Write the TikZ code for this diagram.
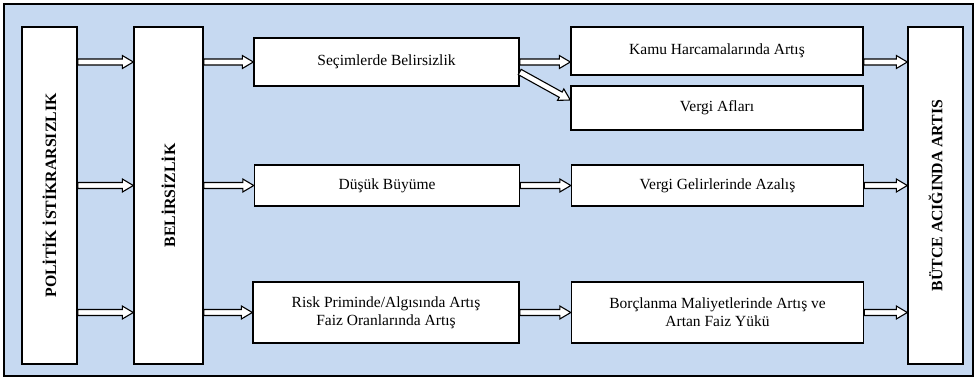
\documentclass[tikz,border=0pt]{standalone}
\usepackage{fontspec}
\setmainfont{Liberation Serif}
\usetikzlibrary{calc}
\definecolor{bgblue}{HTML}{C6D9F1}
\tikzset{
  box/.style={draw=black, fill=white, line width=1.4pt, inner sep=0pt, align=center, font=\fontsize{15.5}{18}\selectfont},
  vbox/.style={draw=black, fill=white, line width=1.4pt, inner sep=0pt},
  vtext/.style={rotate=90, font=\bfseries\fontsize{15.8}{18}\selectfont},
  blockarrow/.style={draw=black, fill=white, line width=1.1pt, line join=miter,
    to path={let \p1=(\tikztostart), \p2=(\tikztotarget), \p3=($(\p2)!11pt!(\p1)$) in
      ($(\p1)!3pt!90:(\p2)$) -- ($(\p3)!3pt!90:(\p2)$) -- ($(\p3)!6.5pt!90:(\p2)$) -- (\p2)
      -- ($(\p3)!6.5pt!-90:(\p2)$) -- ($(\p3)!3pt!-90:(\p2)$) -- ($(\p1)!3pt!-90:(\p2)$) -- cycle}}
}
\begin{document}
\begin{tikzpicture}[x=1pt, y=-1pt]
\useasboundingbox (0,0) rectangle (977,381);
\draw[fill=bgblue, line width=1.5pt] (4,4) rectangle (973,376);

\node[vbox, minimum width=55pt, minimum height=337pt] (pol) at (49.5,195.5) {};
\node[vtext] (polt) at (pol.center) {POLİTİK İSTİKRARSIZLIK};
\node[vbox, minimum width=69pt, minimum height=337pt] (bel) at (168.5,195.5) {};
\node[vtext] (belt) at (bel.center) {BELİRSİZLİK};
\node[vbox, minimum width=55pt, minimum height=337pt] (but) at (935.5,195.5) {};
\node[vtext] (butt) at (but.center) {BÜTCE ACIĞINDA ARTIS};

\node[box, minimum width=265pt, minimum height=48pt] (sec) at (386.5,62) {Seçimlerde Belirsizlik};
\node[box, minimum width=265pt, minimum height=41pt] (dus) at (387,185.5) {Düşük Büyüme};
\node[box, minimum width=266pt, minimum height=61pt] (risk) at (386,312.5) {Risk Priminde/Algısında Artış\\Faiz Oranlarında Artış};

\node[box, minimum width=292pt, minimum height=48pt] (kamu) at (717,51) {Kamu Harcamalarında Artış};
\node[box, minimum width=292pt, minimum height=44pt] (va) at (717,108) {Vergi Afları};
\node[box, minimum width=292pt, minimum height=41pt] (vg) at (717.5,185.5) {Vergi Gelirlerinde Azalış};
\node[box, minimum width=292pt, minimum height=61pt] (borc) at (717.5,312.5) {Borçlanma Maliyetlerinde Artış ve\\Artan Faiz Yükü};

% arrows from POLITIK to BELIRSIZLIK
\draw[blockarrow] (pol.east |- sec.west) to (bel.west |- sec.west);
\draw[blockarrow] (pol.east |- dus.west) to (bel.west |- dus.west);
\draw[blockarrow] (pol.east |- risk.west) to (bel.west |- risk.west);
% arrows from BELIRSIZLIK to middle column
\draw[blockarrow] (bel.east |- sec.west) to (sec.west);
\draw[blockarrow] (bel.east |- dus.west) to (dus.west);
\draw[blockarrow] (bel.east |- risk.west) to (risk.west);
% middle to right column
\draw[blockarrow] (sec.east) to (kamu.west |- sec.east);
\draw[blockarrow] ([yshift=-10pt]sec.east) to ([yshift=8pt]va.west);
\draw[blockarrow] (dus.east) to (vg.west |- dus.east);
\draw[blockarrow] (risk.east) to (borc.west |- risk.east);
% right column to BUTCE
\draw[blockarrow] (kamu.east |- sec.east) to (but.west |- sec.east);
\draw[blockarrow] (vg.east |- dus.east) to (but.west |- dus.east);
\draw[blockarrow] (borc.east |- risk.east) to (but.west |- risk.east);
\end{tikzpicture}
\end{document}
